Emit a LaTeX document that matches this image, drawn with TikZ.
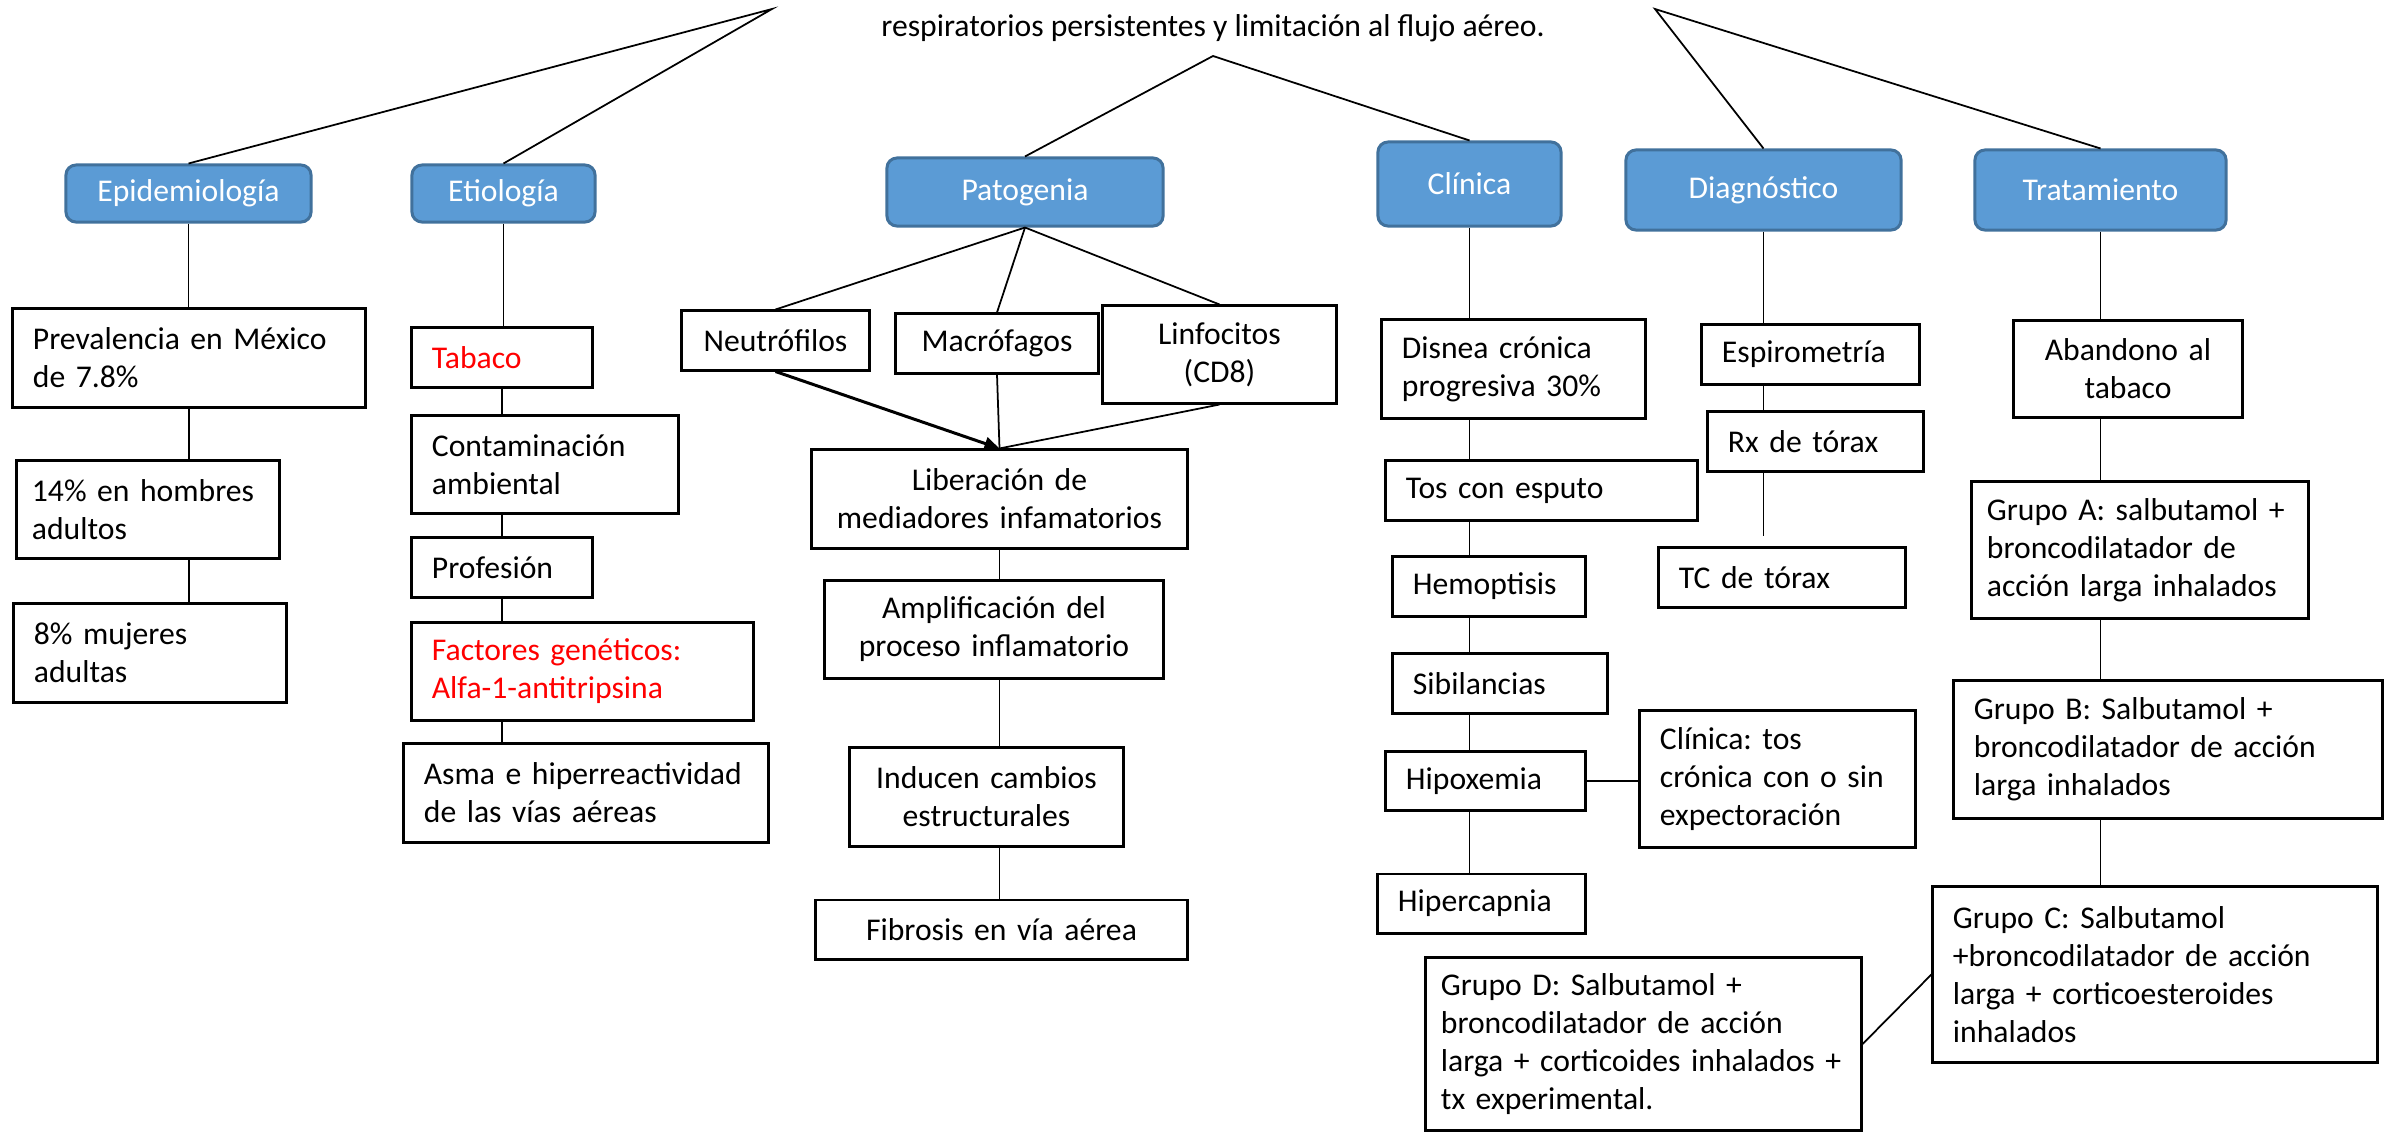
\documentclass[tikz,border=0pt]{standalone}
\usepackage{fontspec}
\setmainfont{Carlito}
\frenchspacing
\usetikzlibrary{arrows.meta}
\definecolor{azul}{HTML}{5B9BD5}
\definecolor{azulborde}{HTML}{41719C}
\definecolor{rojo}{HTML}{FF0000}

\begin{document}
\begin{tikzpicture}[x=0.01cm, y=-0.01cm,
    every node/.style={font=\fontsize{9}{10.8}\selectfont},
    tema/.style 2 args={rounded corners=0.1cm, fill=azul, draw=azulborde, line width=0.85pt,
        text=white, minimum width=#1, minimum height=#2, inner sep=0pt},
    caja/.style 2 args={draw, line width=0.85pt, inner xsep=0.2cm, inner ysep=0pt,
        align=left, text width=#1, minimum height=#2},
    cajac/.style 2 args={caja={#1}{#2}, align=center},
    linea/.style={line width=0.5pt},
    flecha/.style={line width=0.85pt, -{Triangle[length=0.15cm, width=0.13cm]}}]
    \useasboundingbox (0,0) rectangle (2384,1133);

    % definicion
    \node[anchor=base] (tit) at (1213,36) {respiratorios persistentes y limitación al flujo aéreo.};
    \coordinate (vizq) at (772,9);
    \coordinate (vcen) at (1213,56);
    \coordinate (vder) at (1655,9);

    % temas
    \node[tema={2.45cm}{0.57cm}] (epi) at (188.5,193.5) {Epidemiología};
    \node[tema={1.83cm}{0.57cm}] (etio) at (503.5,193.5) {Etiología};
    \node[tema={2.76cm}{0.68cm}] (pato) at (1025,192) {Patogenia};
    \node[tema={1.83cm}{0.84cm}] (clin) at (1469.5,184) {Clínica};
    \node[tema={2.75cm}{0.80cm}] (diag) at (1763.5,190) {Diagnóstico};
    \node[tema={2.51cm}{0.80cm}] (trat) at (2100.5,190) {Tratamiento};

    \draw[linea] (epi.north) -- (vizq) -- (etio.north);
    \draw[linea] (pato.north) -- (vcen) -- (clin.north);
    \draw[linea] (diag.north) -- (vder) -- (trat.north);

    % epidemiologia
    \node[caja={3.12cm}{0.98cm}] (prev) at (189,358) {Prevalencia en México\\de 7.8\%};
    \node[caja={2.32cm}{0.97cm}, inner xsep=0.15cm] (hom) at (148,509.5) {14\% en hombres\\adultos};
    \node[caja={2.32cm}{0.98cm}] (muj) at (150,653) {8\% mujeres\\adultas};
    \draw[linea] (epi.south) -- (epi.south |- prev.north);
    \draw[linea] (prev.south) -- (prev.south |- hom.north);
    \draw[linea] (prev.south |- hom.south) -- (prev.south |- muj.north);

    % etiologia
    \node[caja={1.40cm}{0.59cm}, text=rojo] (tab) at (502,357.5) {Tabaco};
    \node[caja={2.26cm}{0.97cm}] (cont) at (545,464.5) {Contaminación\\ambiental};
    \node[caja={1.40cm}{0.59cm}] (prof) at (502,567.5) {Profesión};
    \node[caja={3.01cm}{0.97cm}, text=rojo] (gen) at (582.5,671.5) {Factores genéticos:\\Alfa-1-antitripsina};
    \node[caja={3.24cm}{0.98cm}] (asma) at (586,793) {Asma e hiperreactividad\\de las vías aéreas};
    \draw[linea] (etio.south) -- (etio.south |- tab.north);
    \draw[linea] (tab.south) -- (tab.south |- cont.north);
    \draw[linea] (tab.south |- cont.south) -- (tab.south |- prof.north);
    \draw[linea] (prof.south) -- (prof.south |- gen.north);
    \draw[linea] (prof.south |- gen.south) -- (prof.south |- asma.north);

    % patogenia
    \node[cajac={1.47cm}{0.59cm}] (neu) at (775.5,340.5) {Neutrófilos};
    \node[cajac={1.62cm}{0.59cm}] (mac) at (997,343.5) {Macrófagos};
    \node[cajac={1.93cm}{0.97cm}] (lin) at (1219.5,354.5) {Linfocitos\\(CD8)};
    \node[cajac={3.35cm}{0.98cm}] (lib) at (999.5,499) {Liberación de\\mediadores infamatorios};
    \node[cajac={2.98cm}{0.97cm}] (amp) at (994,629.5) {Amplificación del\\proceso inflamatorio};
    \node[cajac={2.33cm}{0.98cm}] (ind) at (986.5,797) {Inducen cambios\\estructurales};
    \node[cajac={3.31cm}{0.59cm}] (fib) at (1001.5,929.5) {Fibrosis en vía aérea};
    \foreach \n in {neu, mac, lin}
        \draw[linea] (pato.south) -- (\n.north);
    \draw[flecha] (neu.south) -- (lib.north);
    \draw[linea] (mac.south) -- (lib.north);
    \draw[linea] (lin.south) -- (lib.north);
    \foreach \a/\b in {lib/amp, amp/ind, ind/fib}
        \draw[linea] (lib.south |- \a.south) -- (lib.south |- \b.north);

    % clinica
    \node[caja={2.23cm}{0.98cm}] (disn) at (1513.5,369) {Disnea crónica\\progresiva 30\%};
    \node[caja={2.71cm}{0.59cm}] (tos) at (1541.5,490.5) {Tos con esputo};
    \node[caja={1.52cm}{0.59cm}] (hemo) at (1489,586.5) {Hemoptisis};
    \node[caja={1.74cm}{0.59cm}] (sib) at (1500,683.5) {Sibilancias};
    \node[caja={1.59cm}{0.58cm}] (hipox) at (1485.5,781) {Hipoxemia};
    \node[caja={1.67cm}{0.59cm}] (hiper) at (1481.5,903.5) {Hipercapnia};
    \node[caja={2.35cm}{1.36cm}] (ctos) at (1777.5,779) {Clínica: tos\\crónica con o sin\\expectoración};
    \draw[linea] (clin.south) -- (clin.south |- disn.north);
    \foreach \a/\b in {disn/tos, tos/hemo, hemo/sib, sib/hipox, hipox/hiper}
        \draw[linea] (clin.south |- \a.south) -- (clin.south |- \b.north);
    \draw[linea] (hipox.east) -- (hipox.east -| ctos.west);

    % diagnostico
    \node[caja={1.77cm}{0.59cm}] (esp) at (1810.5,354.5) {Espirometría};
    \node[caja={1.75cm}{0.59cm}] (rx) at (1815.5,441.5) {Rx de tórax};
    \node[caja={2.06cm}{0.59cm}] (tc) at (1782,577.5) {TC de tórax};
    \draw[linea] (diag.south) -- (diag.south |- esp.north);
    \draw[linea] (diag.south |- esp.south) -- (diag.south |- rx.north);
    \draw[linea, shorten >=0.1cm] (diag.south |- rx.south) -- (diag.south |- tc.north);

    % tratamiento
    \node[cajac={1.88cm}{0.96cm}] (aban) at (2128,369) {Abandono al\\tabaco};
    \node[caja={3.06cm}{1.36cm}, inner xsep=0.15cm] (ga) at (2140,550) {Grupo A: salbutamol +\\broncodilatador de\\acción larga inhalados};
    \node[caja={3.88cm}{1.37cm}] (gb) at (2168,749.5) {Grupo B: Salbutamol +\\broncodilatador de acción\\larga inhalados};
    \node[caja={4.04cm}{1.75cm}] (gc) at (2155,974.5) {Grupo C: Salbutamol\\+broncodilatador de acción\\larga + corticoesteroides\\inhalados};
    \node[caja={4.05cm}{1.72cm}, inner xsep=0.15cm] (gd) at (1643.5,1044) {Grupo D: Salbutamol +\\broncodilatador de acción\\larga + corticoides inhalados +\\tx experimental.};
    \draw[linea] (trat.south) -- (trat.south |- aban.north);
    \foreach \a/\b in {aban/ga, ga/gb, gb/gc}
        \draw[linea] (trat.south |- \a.south) -- (trat.south |- \b.north);
    \draw[linea] (gc.west) -- (gd.east);
\end{tikzpicture}
\end{document}
